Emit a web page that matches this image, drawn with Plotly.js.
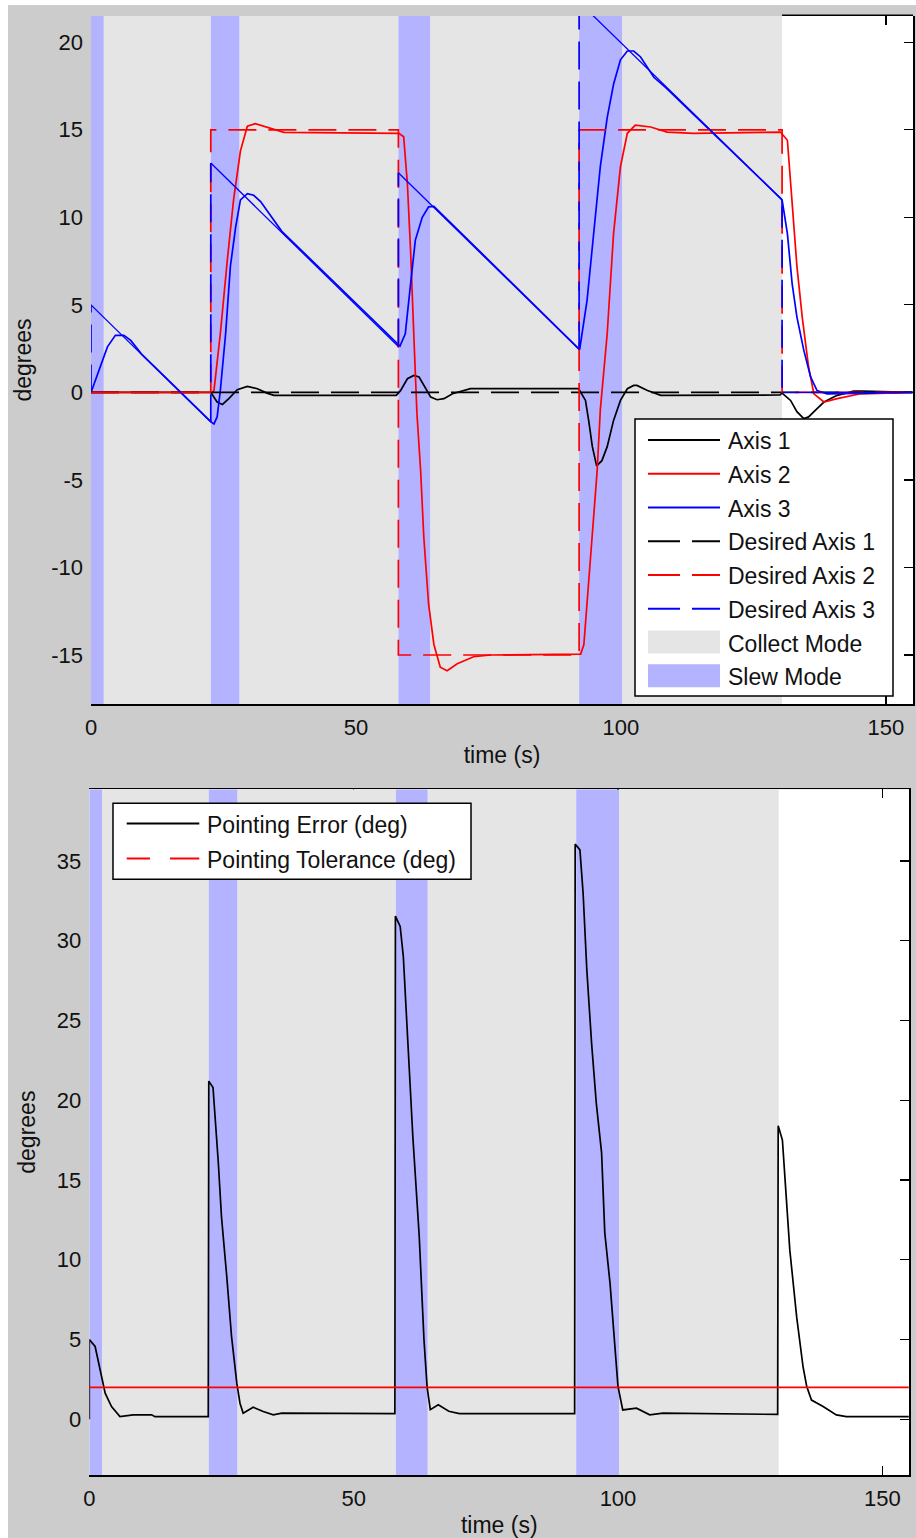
<!DOCTYPE html>
<html><head><meta charset="utf-8">
<script src="https://cdn.plot.ly/plotly-3.0.1.min.js"></script>
<style>html,body{margin:0;padding:0;background:#fff;}#chart{width:916px;height:1538px;}</style>
</head><body><div id="chart"></div>
<script>
// ---------- DATA ----------
// mode intervals (s)
const slewStart    = [0, 22.6, 58.0, 92.1];
const slewEnd      = [2.4, 28.0, 64.0, 100.2];
const collectStart = [2.4, 28.0, 64.0, 100.2];
const collectEnd   = [22.6, 58.0, 92.1, 130.4];

// top panel: gimbal axes (deg)
const axis1T = [0, 22.6, 23.8, 24.8, 26.0, 27.6, 29.5, 31.4, 33.2, 34.5, 57.6, 58.4, 59.7, 60.9, 61.9, 62.8, 64.1, 65.3, 66.6, 68.2, 71.6, 92.0, 92.4, 93.3, 93.9, 94.6, 95.4, 96.4, 97.4, 98.6, 99.9, 101.2, 102.4, 103.0, 105.0, 107.5, 130.0, 130.4, 132.0, 133.2, 134.5, 135.4, 137.0, 138.3, 140.8, 143.9, 145.5, 155];
const axis1V = [0, 0, -0.55, -0.69, -0.36, 0.15, 0.34, 0.21, -0.04, -0.17, -0.17, 0.1, 0.78, 0.97, 0.88, 0.4, -0.27, -0.42, -0.36, -0.08, 0.21, 0.21, 0, -0.46, -1.6, -3.1, -4.2, -3.9, -3.1, -1.6, -0.46, 0.21, 0.4, 0.4, 0.11, -0.17, -0.15, -0.04, -0.46, -1.1, -1.5, -1.4, -0.93, -0.55, -0.17, 0.07, 0.07, 0];

const axis2T = [0, 22.9, 23.2, 24.4, 25.7, 26.9, 28.2, 29.5, 31.0, 33.2, 36.4, 58.1, 59.0, 59.7, 60.3, 60.9, 61.5, 62.2, 62.8, 63.7, 64.7, 65.9, 67.2, 69.1, 72.2, 75.4, 92.4, 93.0, 93.6, 94.6, 95.5, 96.1, 97.4, 98.6, 99.9, 101.2, 102.7, 105.6, 108.7, 113.7, 130.1, 131.4, 132.3, 133.2, 134.2, 135.4, 136.4, 138.3, 140.8, 143.9, 145.2, 155];
const axis2V = [0, 0, 0.1, 3.35, 7.5, 11.0, 13.8, 15.2, 15.35, 15.15, 14.85, 14.8, 14.6, 11.9, 8.1, 3.35, -1.2, -4.5, -8.3, -12.1, -14.4, -15.7, -15.9, -15.5, -15.1, -15.0, -14.95, -14.4, -12.1, -8.3, -4.5, -1.0, 3.35, 9.07, 12.9, 14.8, 15.26, 15.16, 14.87, 14.8, 14.87, 14.4, 11.0, 7.2, 4.3, 1.45, -0.08, -0.55, -0.36, -0.17, -0.08, 0];

const axis3T = [0, 1.8, 3.1, 4.6, 6.2, 7.5, 9.5, 22.7, 23.2, 23.8, 24.4, 25.4, 26.3, 27.3, 28.2, 29.5, 30.7, 32.0, 33.2, 36.0, 58.3, 59.3, 60.3, 61.2, 62.5, 63.7, 64.7, 92.2, 93.6, 94.9, 96.1, 97.4, 98.6, 99.9, 101.2, 102.4, 103.7, 106.2, 108.5, 130.4, 131.4, 132.3, 133.2, 134.5, 135.8, 137.0, 138.9, 155];
const axis3V = [0, 1.45, 2.6, 3.26, 3.26, 2.97, 2.2, -1.7, -1.8, -1.4, 0.1, 3.35, 7.2, 9.45, 11.0, 11.35, 11.26, 10.9, 10.4, 9.2, 2.65, 3.35, 6.2, 8.7, 10.0, 10.6, 10.63, 2.45, 5.26, 9.07, 12.9, 15.7, 17.6, 19.0, 19.5, 19.5, 19.16, 18.0, 17.4, 11.0, 9.07, 6.2, 4.3, 2.4, 0.87, 0.1, -0.08, 0];

const desired1T = [0, 155];
const desired1V = [0, 0];
const desired2T = [0, 22.6, 22.6, 58.0, 58.0, 92.1, 92.1, 130.4, 130.4, 155];
const desired2V = [0, 0, 15, 15, -15, -15, 15, 15, 0, 0];
const desired3T = [0, 0, 22.6, 22.6, 58.0, 58.0, 92.1, 92.1, 130.4, 130.4, 155];
const desired3V = [0, 5, -1.7, 13.1, 2.62, 12.55, 2.45, 22.3, 11.0, 0, 0];

// bottom panel: pointing error (deg)
const errT = [0, 0, 1.1, 2.0, 3.0, 4.2, 5.8, 8.3, 11.8, 12.4, 22.5, 22.6, 23.4, 24.4, 25.0, 26.0, 26.9, 27.9, 28.5, 29.1, 31.0, 32.9, 34.8, 36.4, 57.8, 57.9, 58.8, 59.4, 60.0, 60.6, 61.2, 62.4, 63.3, 63.9, 64.5, 66.0, 68.0, 70.0, 91.8, 91.9, 92.8, 93.4, 94.1, 95.0, 95.9, 96.9, 97.5, 98.5, 99.4, 100.0, 100.9, 103.5, 106.0, 108.5, 130.2, 130.3, 131.1, 132.5, 133.8, 135.0, 135.7, 136.6, 138.8, 141.3, 143.2, 155];
const errV = [0, 5.0, 4.56, 3.1, 1.63, 0.79, 0.16, 0.27, 0.27, 0.16, 0.16, 21.2, 20.8, 16.1, 12.7, 8.95, 5.2, 2.26, 1.0, 0.38, 0.75, 0.48, 0.27, 0.38, 0.35, 31.55, 30.9, 29.0, 25.1, 20.9, 17.7, 11.5, 5.0, 2.0, 0.6, 0.9, 0.5, 0.35, 0.35, 36.06, 35.7, 33.0, 28.2, 23.6, 19.8, 16.7, 11.7, 8.5, 4.8, 2.05, 0.58, 0.69, 0.27, 0.38, 0.3, 18.4, 17.5, 10.6, 6.4, 3.3, 2.05, 1.2, 0.79, 0.27, 0.16, 0.16];
const tolT = [0, 155];
const tolV = [2, 2];

const xTicks = [0, 50, 100, 150];
const yTicksTop = [-15, -10, -5, 0, 5, 10, 15, 20];
const yTicksBot = [0, 5, 10, 15, 20, 25, 30, 35];

// ---------- STYLE / LAYOUT ----------
const W = 916, H = 1538, M = {l: 89, r: 3, t: 16, b: 63};
const PW = W - M.l - M.r, PH = H - M.t - M.b;
const px = p => (p - M.l) / PW;
const py = p => 1 - (p - M.t) / PH;

const FONT = 'Liberation Sans, Arial, sans-serif';
const TXT = '#111';
const COLLECT = '#e5e5e5', SLEW = '#b3b3ff';
const LW = 1.7, DASH = '28px,12px';
const xRange = [0, 155.1], yRangeTop = [-17.8, 21.5], yRangeBot = [-3.5, 39.5];

function bandTrace(starts, ends, yr, color, xa, ya) {
  const x = [], y = [];
  starts.forEach((s, i) => {
    const e = ends[i];
    x.push(s, s, e, e, s, null);
    y.push(yr[0], yr[1], yr[1], yr[0], yr[0], null);
  });
  return {x, y, xaxis: xa, yaxis: ya, type: 'scatter', mode: 'lines', fill: 'toself',
    fillcolor: color, line: {width: 0, color: color}, hoverinfo: 'skip', showlegend: false};
}
function line(t, v, color, dash, xa, ya, name, w) {
  return {x: t, y: v, xaxis: xa, yaxis: ya, type: 'scatter', mode: 'lines', name,
    line: {color, width: w || LW, dash: dash || 'solid'}, showlegend: false};
}
// split a step/ramp command into its jump pieces (same time) or its ramp pieces (time advancing)
function pieces(t, v, jumps) {
  const x = [], y = [];
  for (let i = 0; i < t.length - 1; i++) {
    if ((t[i] === t[i + 1]) === jumps) x.push(t[i], t[i + 1], null), y.push(v[i], v[i + 1], null);
  }
  return {x, y};
}

const topSeries = [
  {name: 'Axis 1', t: axis1T, v: axis1V, color: '#000000', dash: null},
  {name: 'Axis 2', t: axis2T, v: axis2V, color: '#ff0000', dash: null},
  {name: 'Axis 3', t: axis3T, v: axis3V, color: '#0000ff', dash: null},
  {name: 'Desired Axis 1', t: desired1T, v: desired1V, color: '#000000', dash: DASH},
  {name: 'Desired Axis 2', t: desired2T, v: desired2V, color: '#ff0000', dash: DASH},
  {name: 'Desired Axis 3', t: desired3T, v: desired3V, color: '#0000ff', dash: DASH, rampSolid: true}
];
const botSeries = [
  {name: 'Pointing Error (deg)', t: errT, v: errV, color: '#000000', dash: null, legendDash: false},
  {name: 'Pointing Tolerance (deg)', t: tolT, v: tolV, color: '#ff0000', dash: null, legendDash: true}
];

const data = [
  bandTrace(collectStart, collectEnd, yRangeTop, COLLECT, 'x', 'y'),
  bandTrace(slewStart, slewEnd, yRangeTop, SLEW, 'x', 'y'),
  bandTrace(collectStart, collectEnd, yRangeBot, COLLECT, 'x2', 'y2'),
  bandTrace(slewStart, slewEnd, yRangeBot, SLEW, 'x2', 'y2')
];
topSeries.forEach(s => {
  if (s.rampSolid) {
    const j = pieces(s.t, s.v, true), r = pieces(s.t, s.v, false);
    data.push(line(j.x, j.y, s.color, s.dash, 'x', 'y', s.name));
    data.push(line(r.x, r.y, s.color, null, 'x', 'y', s.name, 1.3));
  } else {
    data.push(line(s.t, s.v, s.color, s.dash, 'x', 'y', s.name));
  }
});
botSeries.forEach(s => data.push(line(s.t, s.v, s.color, s.dash, 'x2', 'y2', s.name)));
// anchors for the mirrored tick axes
data.push({x: [null], y: [null], xaxis: 'x3', yaxis: 'y3', type: 'scatter', mode: 'lines', showlegend: false, hoverinfo: 'skip'});
data.push({x: [null], y: [null], xaxis: 'x2', yaxis: 'y4', type: 'scatter', mode: 'lines', showlegend: false, hoverinfo: 'skip'});

const tickFont = {family: FONT, size: 22, color: TXT};
const titleFont = {family: FONT, size: 23, color: TXT};
const baseX = {range: xRange, tickvals: xTicks, ticktext: xTicks.map(String), ticks: 'inside', ticklen: 9, tickwidth: 1.2, tickcolor: '#000',
  showline: true, linecolor: '#000', linewidth: 1.5, showgrid: false, zeroline: false, layer: 'below traces',
  tickfont: tickFont, ticklabelstandoff: 3, fixedrange: true};
const baseY = {ticks: '', showline: false, showgrid: false, zeroline: false,
  tickfont: tickFont, ticklabelstandoff: 7, fixedrange: true};
const rightY = {side: 'right', ticks: 'inside', ticklen: 9, tickwidth: 1.2, tickcolor: '#000',
  showticklabels: false, showline: true, linecolor: '#000', linewidth: 1.5, showgrid: false, zeroline: false,
  layer: 'below traces', fixedrange: true};

const shapes = [
  {type: 'rect', xref: 'paper', yref: 'paper', x0: px(0), x1: px(8), y0: py(H), y1: py(0), fillcolor: '#ffffff', line: {width: 0}, layer: 'below'},
  {type: 'rect', xref: 'paper', yref: 'paper', x0: px(0), x1: px(W), y0: py(5), y1: py(0), fillcolor: '#ffffff', line: {width: 0}, layer: 'below'},
  // top frame of upper axes, visible only where no mode patch covers it
  {type: 'line', xref: 'x', yref: 'paper', x0: collectEnd[collectEnd.length - 1], x1: xRange[1], y0: py(15.3), y1: py(15.3), line: {color: '#000', width: 1.5}}
];
const annotations = [];

function buildLegend(box, entries) {
  shapes.push({type: 'rect', xref: 'paper', yref: 'paper', x0: px(box.x0), x1: px(box.x1), y0: py(box.y1), y1: py(box.y0),
    fillcolor: '#ffffff', line: {color: '#000', width: 1.5}});
  entries.forEach((e, i) => {
    const yc = box.rowY0 + i * box.rowStep;
    if (e.fill) {
      shapes.push({type: 'rect', xref: 'paper', yref: 'paper', x0: px(box.sx0), x1: px(box.sx1), y0: py(yc + 10), y1: py(yc - 13),
        fillcolor: e.fill, line: {width: 0}});
    } else if (e.dashed) {
      box.dashSegs.forEach(sg => shapes.push({type: 'line', xref: 'paper', yref: 'paper', x0: px(sg[0]), x1: px(sg[1]),
        y0: py(yc - 1), y1: py(yc - 1), line: {color: e.color, width: 2}}));
    } else {
      shapes.push({type: 'line', xref: 'paper', yref: 'paper', x0: px(box.sx0), x1: px(box.sx1), y0: py(yc - 1), y1: py(yc - 1),
        line: {color: e.color, width: 2}});
    }
    annotations.push({xref: 'paper', yref: 'paper', x: px(box.tx), y: py(yc), xanchor: 'left', yanchor: 'middle',
      text: e.name, showarrow: false, borderpad: 0, font: {family: FONT, size: 23, color: TXT}});
  });
}
buildLegend({x0: 635, x1: 893, y0: 419, y1: 696, sx0: 648, sx1: 720, tx: 727, rowY0: 441, rowStep: 33.75,
  dashSegs: [[648, 680], [692, 720]]},
  topSeries.map(s => ({name: s.name, color: s.color, dashed: !!s.dash}))
    .concat([{name: 'Collect Mode', fill: COLLECT}, {name: 'Slew Mode', fill: SLEW}]));
buildLegend({x0: 113, x1: 471, y0: 803.3, y1: 879.3, sx0: 126.7, sx1: 199.3, tx: 205.5, rowY0: 824.5, rowStep: 35,
  dashSegs: [[126.7, 150], [170, 199.3]]},
  botSeries.map(s => ({name: s.name, color: s.color, dashed: s.legendDash})));

const layout = {
  width: W, height: H, margin: M, paper_bgcolor: '#cccccc', plot_bgcolor: '#ffffff', showlegend: false,
  font: {family: FONT, color: TXT},
  xaxis: Object.assign({}, baseX, {domain: [px(91), px(913)], anchor: 'y', mirror: false,
    title: {text: 'time (s)', font: titleFont, standoff: 8}}),
  xaxis3: {overlaying: 'x', side: 'top', anchor: 'y3', range: xRange, tickvals: xTicks, ticks: 'inside', ticklen: 9,
    tickwidth: 1.2, tickcolor: '#000', showticklabels: false, showline: false, showgrid: false, zeroline: false,
    layer: 'below traces', fixedrange: true},
  yaxis: Object.assign({}, baseY, {domain: [py(704), 1], anchor: 'x', range: yRangeTop,
    tickvals: yTicksTop, ticktext: yTicksTop.map(String),
    title: {text: 'degrees', font: titleFont, standoff: 13}}),
  yaxis3: Object.assign({}, rightY, {overlaying: 'y', anchor: 'x3', range: yRangeTop, tickvals: yTicksTop}),
  xaxis2: Object.assign({}, baseX, {domain: [px(89.3), px(909.3)], anchor: 'y2', mirror: 'ticks',
    title: {text: 'time (s)', font: titleFont, standoff: 7}}),
  yaxis2: Object.assign({}, baseY, {domain: [0, py(789.3)], anchor: 'x2', range: yRangeBot,
    tickvals: yTicksBot, ticktext: yTicksBot.map(String),
    title: {text: 'degrees', font: titleFont, standoff: 14}}),
  yaxis4: Object.assign({}, rightY, {overlaying: 'y2', anchor: 'x2', range: yRangeBot, tickvals: yTicksBot}),
  shapes, annotations
};
Plotly.newPlot('chart', data, layout, {staticPlot: true, displayModeBar: false});
</script></body></html>
